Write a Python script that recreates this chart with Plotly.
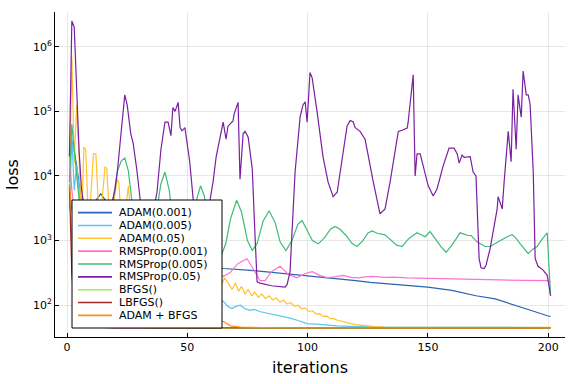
import plotly.graph_objects as go

# ---------------- data ----------------
names = ["ADAM(0.001)", "ADAM(0.005)", "ADAM(0.05)", "RMSProp(0.001)",
         "RMSProp(0.005)", "RMSProp(0.05)", "BFGS()", "LBFGS()", "ADAM + BFGS"]
colors = ["#2b63b3", "#56c7ef", "#ffc22e", "#ff72cf", "#3dbb77",
          "#7b1fa2", "#aee64a", "#a52a2a", "#ff8c1a"]

adam001_x = [1, 2, 3, 4, 5, 6, 8, 10, 12, 14, 16, 18, 21, 25, 30, 40, 50, 60, 65, 75,
             84, 90, 100, 110, 120, 126, 140, 150, 160, 170, 178, 184, 192, 200, 201]
adam001_y = [2.5e4, 3.5e4, 2.5e4, 1.5e4, 8e3, 4e3, 2.5e3, 2.8e3, 4.2e3, 5.3e3, 4.2e3, 2.5e3,
             1.5e3, 900, 650, 480, 420, 390, 370, 350, 325, 315, 290, 265, 240, 225, 205,
             190, 170, 140, 125, 105, 85, 68, 67]

adam005_x = [1, 2, 3, 4, 5, 6, 8, 10, 13, 16, 20, 25, 30, 35, 40, 45, 50, 55, 60, 65, 67,
             68.6, 70, 72, 74, 76, 78, 80, 83, 86, 88, 92.7, 96, 99.8, 104, 108, 112,
             117.7, 125, 135, 201]
adam005_y = [3e3, 4e4, 6e3, 1.5e4, 6e3, 2e3, 900, 1.4e3, 700, 900, 500, 400, 300, 260, 220,
             180, 160, 140, 125, 115, 95, 89, 95, 100, 88, 83, 86, 80, 76, 72, 70, 63, 58,
             52, 51, 49, 48, 47, 46, 45.4, 45.2]

adam05_x = [1, 2, 3, 4, 5, 6, 7, 7.8, 9, 11, 12, 13.5, 15.8, 16.5, 18, 20.8, 21.5, 23,
            25.5, 27.5, 30, 32.5, 35, 37.5, 40, 42.5, 45, 47.5, 50, 52.5, 55, 57.5, 60,
            62, 64, 65.5, 67, 68.6, 70, 71.3, 72.5, 74, 75.3, 76.8, 78, 79.5, 81, 82.5,
            84, 85.5, 87, 88.5, 90, 91.5, 93, 94.5, 96, 97.5, 99, 100.5, 102, 103.5, 105,
            106.5, 108, 109.5, 111, 112.5, 114, 116, 118, 120, 122, 125, 128, 132, 140, 201]
adam05_y = [5e3, 7e5, 1.6e4, 1.26e5, 2e4, 1.5e3, 2.8e4, 2.5e4, 1.5e3, 2.2e4, 2.2e4, 1.5e3,
            1.4e4, 1.3e4, 1.5e3, 9e3, 8e3, 1.2e3, 7e3, 900, 4e3, 700, 2.5e3, 550, 1.5e3,
            450, 1e3, 380, 700, 320, 500, 270, 380, 230, 200, 265, 220, 175, 220, 165,
            195, 150, 175, 140, 160, 132, 150, 126, 140, 120, 130, 112, 120, 104, 110, 96,
            100, 88, 91, 80, 82, 73, 74, 67, 68, 62, 62, 58, 57, 54, 52, 50, 49, 47.5,
            46.5, 45.8, 45.5, 45.5]

rms001_x = [1, 2, 3, 5, 8, 12, 16, 20, 25, 30, 35, 40, 45, 50, 55, 60, 65, 67.8, 71, 74.8,
            77.5, 80.2, 82.3, 85, 88.6, 92, 95.6, 99, 101.9, 105, 108.5, 111.5, 114.8, 118,
            121, 124, 127.2, 132, 136, 141.4, 150, 160, 170, 180, 190, 199.6, 201]
rms001_y = [2e4, 6e3, 3e3, 2.5e3, 1.5e3, 900, 1.2e3, 700, 500, 600, 400, 450, 330, 380, 300,
            330, 280, 320, 440, 525, 360, 240, 240, 330, 400, 300, 265, 310, 330, 290, 265,
            280, 290, 270, 265, 275, 280, 270, 272, 265, 260, 255, 250, 245, 242, 240, 230]

rms005_x = [1, 2, 3, 4, 5, 6, 8, 10, 13, 16, 19, 21, 22.5, 24, 25.5, 27, 29, 31, 33, 35,
            37, 39, 40.7, 42.5, 44, 46, 48, 50, 52, 54, 55.5, 57, 59, 61, 63.6, 66, 68,
            70.5, 72.5, 75, 77, 79, 81.5, 84, 86.5, 88.6, 91, 93.5, 96, 97.7, 100, 102,
            104.4, 107, 109.5, 111.4, 113.5, 116, 118.5, 120.6, 123, 125, 126.8, 129,
            132.2, 135, 137, 139.3, 142, 145.5, 147.5, 148.9, 150.9, 153, 155.5, 157.6,
            160, 163.4, 165, 166.7, 168, 170.5, 173.8, 175.9, 178, 180, 182.9, 185, 186.5,
            188.4, 191.7, 193.5, 195.4, 197.5, 199.6, 201]
rms005_y = [8e3, 6.3e4, 2.5e4, 1e4, 4e3, 1.8e3, 1e3, 1.3e3, 800, 1.5e3, 4e3, 1.2e4, 1.7e4,
            1.9e4, 1.2e4, 4e3, 1.2e3, 600, 500, 900, 2.5e3, 7.5e3, 1.15e4, 6e3, 2e3, 800,
            450, 600, 1.6e3, 4.5e3, 7e3, 5e3, 1.8e3, 800, 520, 900, 2.2e3, 4.2e3, 2.8e3,
            1e3, 700, 900, 2e3, 2.9e3, 1.9e3, 950, 700, 1e3, 1.8e3, 2.05e3, 1.4e3, 1e3,
            890, 1.1e3, 1.5e3, 1.66e3, 1.5e3, 1.2e3, 900, 810, 1e3, 1.3e3, 1.41e3, 1.3e3,
            1.23e3, 1e3, 850, 810, 1.07e3, 1.32e3, 1.2e3, 1.15e3, 1.38e3, 1.07e3, 800, 660,
            850, 1.32e3, 1.25e3, 1.2e3, 1.2e3, 950, 810, 810, 900, 1e3, 1.15e3, 1.23e3,
            1.1e3, 890, 630, 730, 810, 1.05e3, 1.32e3, 140]

rms05_x = [1, 2, 3, 4, 5, 6, 8, 11, 14, 17, 20, 21, 22.5, 24, 25, 26.5, 27.5, 29, 30.5, 33,
           35, 37.4, 39, 40.7, 42, 43.2, 44, 44.9, 46.2, 47, 47.8, 49, 51, 52.4, 54, 56, 58,
           60.7, 62, 63.6, 64.9, 66.1, 66.9, 69, 69.4, 71.1, 71.9, 73.2, 74, 75.3, 77, 78,
           79, 80.2, 85, 90.6, 91.5, 92.7, 94.8, 96.9, 98.1, 99, 99.8, 101, 101.9, 104,
           106.4, 108.5, 110.6, 112.3, 114.3, 116.4, 117.7, 118.9, 119.8, 121.8, 123.9,
           125.2, 127.3, 130.1, 132.2, 134.3, 136.4, 137.7, 139.3, 141.4, 141.8, 143.9,
           144.7, 145.5, 146.8, 148.4, 150.1, 152.2, 153.8, 156.3, 158.8, 160.9, 162.2, 163,
           164.2, 165.1, 166.3, 167.6, 168.8, 170, 171.3, 172.1, 173.4, 174.2, 175.9, 177.1,
           178.8, 179.2, 180, 180.9, 181.7, 182.9, 183.4, 184.6, 185.4, 186.7, 187.5, 188.8,
           189.6, 190.9, 191.7, 192.5, 193.8, 194.6, 195.8, 197.9, 199.6, 200.4, 201]
rms05_y = [2e4, 2.5e6, 2e6, 2e5, 2.5e4, 6.3e3, 2e3, 1e3, 1e3, 2e3, 6.3e3, 1.26e4, 5e4, 1.8e5,
           1.26e5, 4.5e4, 3.2e4, 1.26e4, 4e3, 1.6e3, 2e3, 5.6e3, 2.5e4, 6.8e4, 6.8e4, 4.2e4,
           1.15e5, 1e5, 1.38e5, 5.6e4, 5e4, 5.6e4, 1.66e4, 4.5e3, 1.6e3, 1.26e3, 2e3, 8.1e3,
           2e4, 3.7e4, 6.8e4, 3.7e4, 5.9e4, 7.1e4, 8.9e4, 1.38e5, 8.9e3, 4.5e4, 4.9e4, 4e4,
           1.29e4, 1.6e3, 230, 220, 200, 190, 210, 330, 1.15e4, 8.3e4, 1.26e5, 1.41e5, 6.8e4,
           4e5, 3.3e5, 9.5e4, 2e4, 8.1e3, 4.8e3, 5.6e3, 1.66e4, 5.9e4, 7.2e4, 6.9e4, 5.6e4,
           4.9e4, 3.7e4, 2e4, 8.1e3, 2.6e3, 3.1e3, 8.1e3, 2.3e4, 4.9e4, 5.1e4, 5.5e4, 6.8e4,
           3.7e5, 1e4, 2.2e4, 2.2e4, 1.29e4, 7.1e3, 4.9e3, 6.3e3, 1.41e4, 2.7e4, 2.7e4,
           2.2e4, 1.58e4, 2.1e4, 1.95e4, 2e4, 2e4, 1.15e4, 1e4, 525, 380, 370, 420, 760,
           1.41e3, 3.1e3, 4.8e3, 4e3, 3.1e3, 8.1e3, 3.7e4, 4.9e4, 1.66e4, 2.2e5, 2.6e4,
           1.8e5, 8.1e4, 4.2e5, 1.8e5, 1.8e5, 1.29e5, 1.15e4, 525, 400, 350, 290, 195, 140]

bfgs_x = [1, 2, 4, 8, 12, 18, 24, 30, 33, 201]
bfgs_y = [7e3, 1e3, 400, 200, 120, 80, 60, 48, 44, 43.8]

lbfgs_x = [1, 2, 3, 4, 6, 10, 20, 201]
lbfgs_y = [7e3, 300, 120, 80, 55, 46, 44.6, 44.6]

adambfgs_x = [1, 2, 4, 8, 15, 25, 35, 45, 55, 62, 65, 68, 72, 80, 100, 201]
adambfgs_y = [7.5e3, 3e3, 1.5e3, 800, 400, 200, 130, 95, 72, 60, 56, 48, 46, 45.2, 44.8, 44.8]

xs_list = [adam001_x, adam005_x, adam05_x, rms001_x, rms005_x, rms05_x,
           bfgs_x, lbfgs_x, adambfgs_x]
ys_list = [adam001_y, adam005_y, adam05_y, rms001_y, rms005_y, rms05_y,
           bfgs_y, lbfgs_y, adambfgs_y]

x_ticks = [0, 50, 100, 150, 200]
y_ticks = [1e2, 1e3, 1e4, 1e5, 1e6]
y_ticktext = ["10<sup>2</sup>", "10<sup>3</sup>", "10<sup>4</sup>",
              "10<sup>5</sup>", "10<sup>6</sup>"]

# ---------------- figure ----------------
FONT = "DejaVu Sans"
fig = go.Figure()
for name, color, xs, ys in zip(names, colors, xs_list, ys_list):
    fig.add_trace(go.Scatter(x=xs, y=ys, mode="lines", name=name,
                             line=dict(color=color, width=1.2), showlegend=False))

axis_common = dict(showline=True, linecolor="black", linewidth=1, mirror=False,
                   ticks="inside", ticklen=4, tickcolor="black", tickwidth=1,
                   showgrid=True, gridcolor="rgba(0,0,0,0.09)", gridwidth=1,
                   zeroline=False, tickfont=dict(family=FONT, size=11, color="black"))

fig.update_layout(
    width=576, height=384,
    margin=dict(l=55, r=11, t=12, b=45),
    paper_bgcolor="white", plot_bgcolor="white",
    font=dict(family=FONT, color="black"),
    showlegend=False,
    xaxis=dict(range=[-5, 207], tickvals=x_ticks,
               title=dict(text="iterations", font=dict(family=FONT, size=16), standoff=8),
               **axis_common),
    yaxis=dict(type="log", range=[1.508, 6.538], tickvals=y_ticks, ticktext=y_ticktext,
               title=dict(text="loss", font=dict(family=FONT, size=16), standoff=10),
               **axis_common),
)

# compact legend box (Plots.jl style), positioned in pixels from the plot's top-left
shapes = [dict(type="rect", xref="paper", yref="paper", xsizemode="pixel", ysizemode="pixel",
               xanchor=0, yanchor=1, x0=17, x1=167, y0=-188, y1=-316,
               fillcolor="white", line=dict(color="black", width=1), layer="above")]
annotations = []
for i, (name, color) in enumerate(zip(names, colors)):
    ry = 200.6 + 12.85 * i
    shapes.append(dict(type="line", xref="paper", yref="paper", xsizemode="pixel",
                       ysizemode="pixel", xanchor=0, yanchor=1, x0=23, x1=57,
                       y0=-ry, y1=-ry, line=dict(color=color, width=1.6), layer="above"))
    annotations.append(dict(text=name, xref="paper", yref="paper", x=0, y=1,
                            xshift=62, yshift=-ry, xanchor="left", yanchor="middle",
                            showarrow=False, font=dict(family=FONT, size=11, color="black")))
fig.update_layout(shapes=shapes, annotations=annotations)

fig.write_html("out.html", config={"displayModeBar": False},
               post_script="document.body.style.margin='0';document.body.style.padding='0';")
